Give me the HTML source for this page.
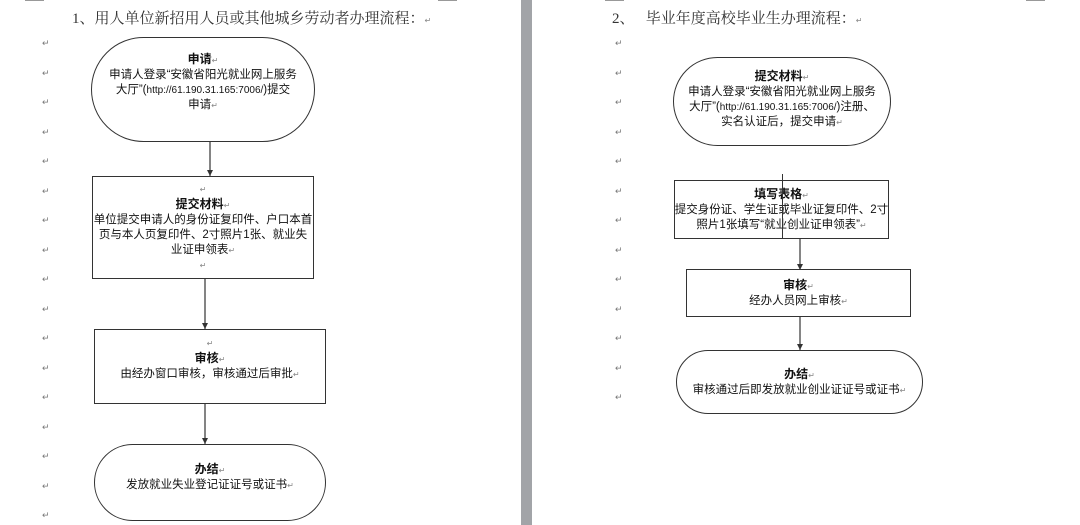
<!DOCTYPE html>
<html><head><meta charset="utf-8">
<style>
*{margin:0;padding:0;box-sizing:border-box}
body{width:1080px;height:525px;background:#fff;position:relative;overflow:hidden;font-family:"Liberation Sans","Noto Sans CJK SC",sans-serif;color:#111}
.a{position:absolute}
.title{font-family:"Liberation Serif","Noto Serif CJK SC",serif;font-size:15px;color:#333;white-space:nowrap}
.ret{position:absolute;font-size:9px;color:#777}
.box{position:absolute;border:1.5px solid #333;background:#fff;display:flex;align-items:center;justify-content:center;text-align:center;font-size:11.5px;line-height:15px;white-space:nowrap}
.box>div{display:block;text-align:center}
.term{border-radius:9999px}
b{font-weight:bold;font-size:12px}
.r{font-size:8px;color:#888}
.u{font-size:10px}
</style></head><body>
<div class="a" style="left:521px;top:0;width:11px;height:525px;background:#a2a4a8"></div>
<div class="a" style="left:25px;top:0;width:19px;height:1px;background:#999"></div>
<div class="a" style="left:438px;top:0;width:19px;height:1px;background:#999"></div>
<div class="a" style="left:605px;top:0;width:19px;height:1px;background:#999"></div>
<div class="a" style="left:1026px;top:0;width:19px;height:1px;background:#999"></div>

<div class="a title" style="left:72px;top:7px">1、用人单位新招用人员或其他城乡劳动者办理流程：<span class="r">↵</span></div>
<div class="a title" style="left:612px;top:7px">2、&nbsp;&nbsp;&nbsp;毕业年度高校毕业生办理流程：<span class="r">↵</span></div>

<svg class="a" style="left:0;top:0" width="1080" height="525">
<g stroke="#333" stroke-width="1.2">
<line x1="210" y1="141" x2="210" y2="176"/>
<line x1="205" y1="278" x2="205" y2="329"/>
<line x1="205" y1="403" x2="205" y2="444"/>
<line x1="800" y1="238" x2="800" y2="270"/>
<line x1="800" y1="316" x2="800" y2="350"/>
</g>
<g fill="#333">
<path d="M207,170 L213,170 L210,176Z"/>
<path d="M202,323 L208,323 L205,329Z"/>
<path d="M202,438 L208,438 L205,444Z"/>
<path d="M797,264 L803,264 L800,270Z"/>
<path d="M797,344 L803,344 L800,350Z"/>
</g>
</svg>

<div class="box term" style="left:91px;top:37px;width:224px;height:105px;padding-bottom:14px"><div><b>申请</b><span class="r">↵</span><br>申请人登录“安徽省阳光就业网上服务<br>大厅”(<span class="u">http://61.190.31.165:7006/</span>)提交<br>申请<span class="r">↵</span></div></div>
<div class="box" style="left:92px;top:176px;width:222px;height:103px"><div><span class="r">↵</span><br><b>提交材料</b><span class="r">↵</span><br>单位提交申请人的身份证复印件、户口本首<br>页与本人页复印件、2寸照片1张、就业失<br>业证申领表<span class="r">↵</span><br><span class="r">↵</span></div></div>
<div class="box" style="left:94px;top:329px;width:232px;height:75px;align-items:flex-start;padding-top:6px"><div><span class="r">↵</span><br><b>审核</b><span class="r">↵</span><br>由经办窗口审核，审核通过后审批<span class="r">↵</span></div></div>
<div class="box term" style="left:94px;top:444px;width:232px;height:77px;padding-bottom:10px"><div><b>办结</b><span class="r">↵</span><br>发放就业失业登记证证号或证书<span class="r">↵</span></div></div>

<div class="box term" style="left:673px;top:57px;width:218px;height:89px;padding-bottom:4px"><div><b>提交材料</b><span class="r">↵</span><br>申请人登录“安徽省阳光就业网上服务<br>大厅”(<span class="u">http://61.190.31.165:7006/</span>)注册、<br>实名认证后，提交申请<span class="r">↵</span></div></div>
<div class="box" style="left:674px;top:180px;width:215px;height:59px;background:transparent"><div><b>填写表格</b><span class="r">↵</span><br>提交身份证、学生证或毕业证复印件、2寸<br>照片1张填写“就业创业证申领表”<span class="r">↵</span></div></div>
<div class="a" style="left:782px;top:174px;width:1.2px;height:64px;background:#333"></div>
<div class="box" style="left:686px;top:269px;width:225px;height:48px"><div><b>审核</b><span class="r">↵</span><br>经办人员网上审核<span class="r">↵</span></div></div>
<div class="box term" style="left:676px;top:350px;width:247px;height:64px"><div><b>办结</b><span class="r">↵</span><br>审核通过后即发放就业创业证证号或证书<span class="r">↵</span></div></div>

<div id="rets"></div>
<script>
var h='';
for(var i=0;i<17;i++){var y=38+i*29.5;h+='<div class="ret" style="left:42px;top:'+y+'px">↵</div>';}
for(var i=0;i<13;i++){var y=38+i*29.5;h+='<div class="ret" style="left:615px;top:'+y+'px">↵</div>';}
document.getElementById('rets').innerHTML=h;
</script>
</body></html>
